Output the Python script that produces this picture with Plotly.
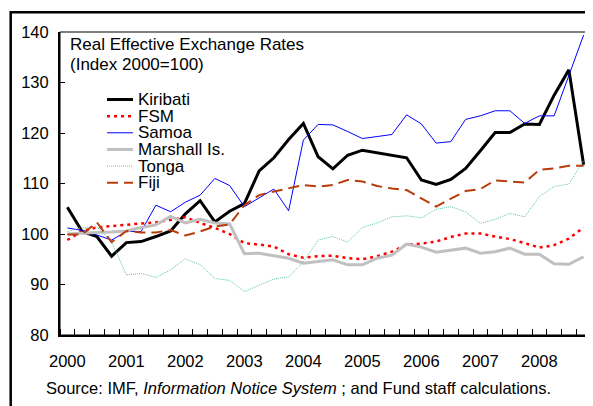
"""Real effective exchange rates, Pacific islands, 2000-2008 (quarterly)."""

import plotly.graph_objects as go

years = list(range(2000, 2009))
quarters = [f"{y}Q{q}" for y in years for q in range(1, 5)]

kiribati = [105.3, 100.5, 99.5, 95.6, 98.3, 98.5, 99.5, 100.6, 104.0, 106.6, 102.4, 104.5,
            106.0, 112.5, 115.1, 118.7, 121.9, 115.3, 112.9, 115.6, 116.6, 116.1, 115.7, 115.1,
            110.7, 109.8, 110.8, 113.0, 116.5, 120.1, 120.1, 121.8, 121.7, 127.5, 132.5, 113.7]
fsm = [98.8, 100.6, 101.3, 101.6, 101.9, 102.1, 102.3, 102.8, 103.3, 102.2, 101.2, 100.0,
       98.2, 97.9, 97.5, 96.0, 95.3, 95.6, 95.7, 95.2, 95.0, 95.6, 96.5, 97.9,
       98.1, 98.5, 99.4, 100.1, 100.1, 99.5, 99.0, 98.2, 97.3, 97.8, 99.1, 101.3]
samoa = [101.2, 100.7, 99.8, 98.8, 100.5, 100.5, 105.7, 104.4, 106.3, 107.7, 111.0, 109.6,
         105.4, 107.1, 108.9, 104.6, 118.6, 121.7, 121.6, 120.3, 118.9, 119.3, 119.7, 123.6,
         121.8, 118.0, 118.3, 122.7, 123.4, 124.4, 124.4, 121.9, 123.4, 123.4, 131.5, 139.4]
marshall = [100.0, 100.2, 100.3, 100.4, 100.6, 101.3, 101.8, 103.5, 102.2, 102.9, 102.2, 102.0,
            96.1, 96.2, 95.7, 95.2, 94.2, 94.5, 94.9, 93.9, 93.9, 95.2, 95.8, 98.0,
            97.4, 96.4, 96.8, 97.2, 96.2, 96.5, 97.2, 96.0, 96.0, 94.1, 94.0, 95.5]
tonga = [100.5, 101.3, 101.4, 98.5, 91.9, 92.2, 91.4, 92.9, 95.1, 93.9, 91.2, 90.8,
         88.6, 89.9, 91.1, 91.5, 94.5, 98.8, 99.5, 98.4, 101.3, 102.2, 103.4, 103.6,
         103.2, 104.9, 105.4, 104.4, 102.1, 102.9, 104.1, 103.4, 107.4, 109.4, 109.9, 114.5]
fiji = [99.9, 99.9, 102.3, 98.4, 100.6, 100.3, 100.3, 100.8, 99.7, 100.5, 101.5, 101.9,
        105.7, 107.7, 108.4, 109.0, 109.7, 109.4, 109.7, 110.7, 110.4, 109.5, 109.0, 108.7,
        107.1, 105.4, 107.0, 108.5, 108.9, 110.6, 110.4, 110.2, 112.7, 113.0, 113.5, 113.5]

series = [
    ("Kiribati", kiribati, dict(color="#000000", width=3)),
    ("FSM", fsm, dict(color="#FF0000", width=2.5, dash="3px,4px")),
    ("Samoa", samoa, dict(color="#0000FF", width=1)),
    ("Marshall Is.", marshall, dict(color="#C0C0C0", width=3)),
    ("Tonga", tonga, dict(color="#5CC8A2", width=1, dash="1px,1px")),
    ("Fiji", fiji, dict(color="#B83C0C", width=2, dash="11px,6px")),
]

x_index = list(range(len(quarters)))

fig = go.Figure()
for name, values, line in series:
    fig.add_trace(go.Scatter(x=x_index, y=values, mode="lines", name=name, line=line,
                             customdata=quarters, hovertemplate="%{customdata}: %{y:.1f}<extra>" + name + "</extra>"))

# page body adds an 8px margin, so the figure is laid out 8px up/left of window coords
# plot area spans window px 60..591 horizontally and 32..335 vertically
plot_w, plot_h = 531, 303
def px_x(px):
    return (px - 60) / plot_w
def px_y(py):
    return (335 - py) / plot_h

shapes = [
    dict(type="rect", xref="paper", yref="paper", x0=0, x1=1, y0=0, y1=1, line=dict(color="#000000", width=1), layer="above"),
    dict(type="rect", xref="paper", yref="paper", x0=px_x(10.7), x1=px_x(640), y0=px_y(450), y1=px_y(12.2), line=dict(color="#000000", width=2.5)),
]
annotations = [
    dict(text="Real Effective Exchange Rates", xref="paper", yref="paper", x=px_x(68), y=px_y(45), xanchor="left", yanchor="middle", showarrow=False, font=dict(size=17)),
    dict(text="(Index 2000=100)", xref="paper", yref="paper", x=px_x(68), y=px_y(65), xanchor="left", yanchor="middle", showarrow=False, font=dict(size=17)),
    dict(text="Source: IMF, <i>Information Notice System</i> ; and Fund staff calculations.", xref="paper", yref="paper", x=px_x(298), y=px_y(388), xanchor="center", yanchor="middle", showarrow=False, font=dict(size=16.5)),
]
for row, (name, values, line) in enumerate(series):
    row_y = px_y(99.5 + row * 16.65)
    shapes.append(dict(type="line", xref="paper", yref="paper", x0=px_x(107), x1=px_x(133), y0=row_y, y1=row_y, line=line))
    annotations.append(dict(text=name, xref="paper", yref="paper", x=px_x(136), y=row_y, xanchor="left", yanchor="middle", showarrow=False, font=dict(size=17)))

fig.update_layout(
    width=585, height=398,
    margin=dict(l=52, r=2, t=24, b=71),
    paper_bgcolor="#FFFFFF", plot_bgcolor="#FFFFFF",
    font=dict(family="Liberation Sans, Arial, sans-serif", color="#000000", size=16.5),
    showlegend=False,
    xaxis=dict(range=[-0.5, 35.5], tickvals=[i * 4 for i in range(len(years))], ticktext=[str(y) for y in years],
               ticks="", showgrid=False, zeroline=False, showline=True, linecolor="#000000", linewidth=2,
               ticklabelstandoff=10,
               minor=dict(tickvals=[k - 0.5 for k in range(len(quarters) + 1)], ticks="inside", ticklen=6, tickcolor="#000000", tickwidth=1, showgrid=False)),
    yaxis=dict(range=[80, 140], dtick=10, ticks="inside", ticklen=5, tickcolor="#000000", showgrid=False, zeroline=False,
               showline=True, linecolor="#000000", linewidth=2, ticklabelstandoff=6),
    shapes=shapes,
    annotations=annotations,
)

fig.write_html("out.html")
